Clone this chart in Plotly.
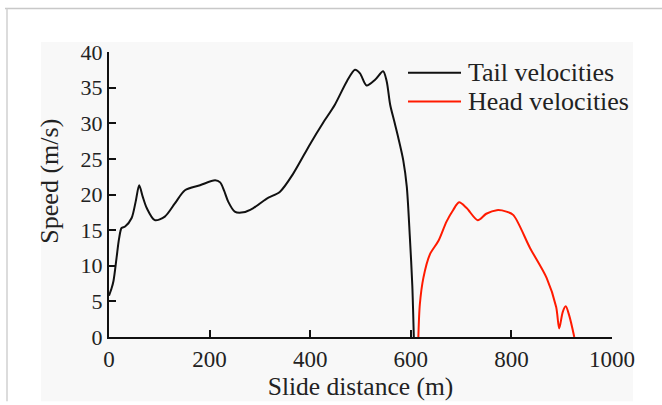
import plotly.graph_objects as go

# Tail velocities (black)
tail_x = [0, 5, 9, 15, 20, 25, 32, 45, 53, 60, 67, 75, 91, 111, 131, 151, 181, 211, 221, 229, 237,
          250, 267, 287, 313, 340, 366, 400, 426, 449, 473, 489, 499, 512, 529, 545, 552, 559, 567,
          575, 585, 592, 598, 603, 606]
tail_y = [5.8, 6.8, 7.9, 11.1, 13.8, 15.3, 15.5, 16.7, 19.0, 21.3, 19.7, 18.1, 16.4, 16.9, 18.75,
          20.6, 21.3, 22.0, 21.7, 20.5, 19.0, 17.6, 17.5, 18.1, 19.4, 20.4, 22.9, 27.1, 30.1, 32.6,
          35.9, 37.5, 37.0, 35.3, 36.1, 37.3, 35.9, 32.6, 30.3, 28.0, 24.8, 21.1, 14.2, 7.2, 0]

# Head velocities (red)
head_x = [615, 618, 625, 638, 655, 671, 684, 696, 711, 733, 750, 771, 790, 804, 837, 870, 889,
          895, 902, 908, 915, 925]
head_y = [0, 4.6, 8.3, 11.6, 13.5, 16.2, 17.8, 18.9, 18.1, 16.4, 17.3, 17.8, 17.6, 17.1, 12.5,
          8.3, 4.2, 1.2, 3.5, 4.3, 3.0, 0]

x_ticks = [0, 200, 400, 600, 800, 1000]
y_ticks = [0, 5, 10, 15, 20, 25, 30, 35, 40]
series_names = ["Tail velocities", "Head velocities"]
series_colors = ["#111111", "#ff1a00"]
x_title = "Slide distance (m)"
y_title = "Speed (m/s)"

FONT = "Liberation Serif, Times New Roman, DejaVu Serif, serif"
W, H = 662, 405
L, R, T, B = 109, 50, 52, 65
pw, ph = W - L - R, H - T - B


def px(x):
    return (x - L) / pw


def py(y):
    return (H - B - y) / ph


fig = go.Figure()
for xs, ys, name, col in [(tail_x, tail_y, series_names[0], series_colors[0]),
                          (head_x, head_y, series_names[1], series_colors[1])]:
    fig.add_trace(go.Scatter(x=xs, y=ys, mode="lines", name=name, showlegend=False,
                             line=dict(color=col, width=2, shape="spline", smoothing=0.8)))

shapes = [
    dict(type="rect", xref="paper", yref="paper", x0=px(41), x1=px(633), y0=py(405), y1=py(42),
         fillcolor="#f8f8f8", line=dict(width=0), layer="below"),
    dict(type="line", xref="paper", yref="paper", x0=px(5), x1=px(662), y0=py(8), y1=py(8),
         line=dict(color="#c8c8c8", width=1.5), layer="below"),
    dict(type="line", xref="paper", yref="paper", x0=px(7), x1=px(7), y0=py(8), y1=py(405),
         line=dict(color="#d0d0d0", width=1.5), layer="below"),
]
annotations = [
    dict(xref="paper", yref="paper", x=px(50), y=py(183), text=y_title, textangle=-90,
         showarrow=False, xanchor="center", yanchor="middle",
         font=dict(family=FONT, size=26, color="#222222")),
]
# manual legend
for i, (name, col) in enumerate(zip(series_names, series_colors)):
    yy = 73 + 29 * i
    shapes.append(dict(type="line", xref="paper", yref="paper", x0=px(408), x1=px(461),
                       y0=py(yy), y1=py(yy), line=dict(color=col, width=2)))
    annotations.append(dict(xref="paper", yref="paper", x=px(466), y=py(yy), text=name,
                            showarrow=False, xanchor="left", yanchor="middle",
                            font=dict(family=FONT, size=26, color="#222222")))

fig.update_layout(
    width=W, height=H,
    margin=dict(l=L, r=R, t=T, b=B),
    paper_bgcolor="white",
    plot_bgcolor="rgba(0,0,0,0)",
    font=dict(family=FONT, color="#222222", size=22),
    shapes=shapes,
    annotations=annotations,
    showlegend=False,
    xaxis=dict(range=[0, 1000], tickvals=x_ticks, ticks="inside", ticklen=7, tickwidth=2,
               tickcolor="#111111", showline=True, linecolor="#111111", linewidth=2,
               showgrid=False, zeroline=False, tickfont=dict(family=FONT, size=23),
               title=dict(text=x_title, font=dict(family=FONT, size=25.5), standoff=4)),
    yaxis=dict(range=[0, 40], tickvals=y_ticks, ticks="inside", ticklen=7, tickwidth=2,
               tickcolor="#111111", showline=True, linecolor="#111111", linewidth=2,
               showgrid=False, zeroline=False, tickfont=dict(family=FONT, size=22)),
)

fig.write_html("out.html")
